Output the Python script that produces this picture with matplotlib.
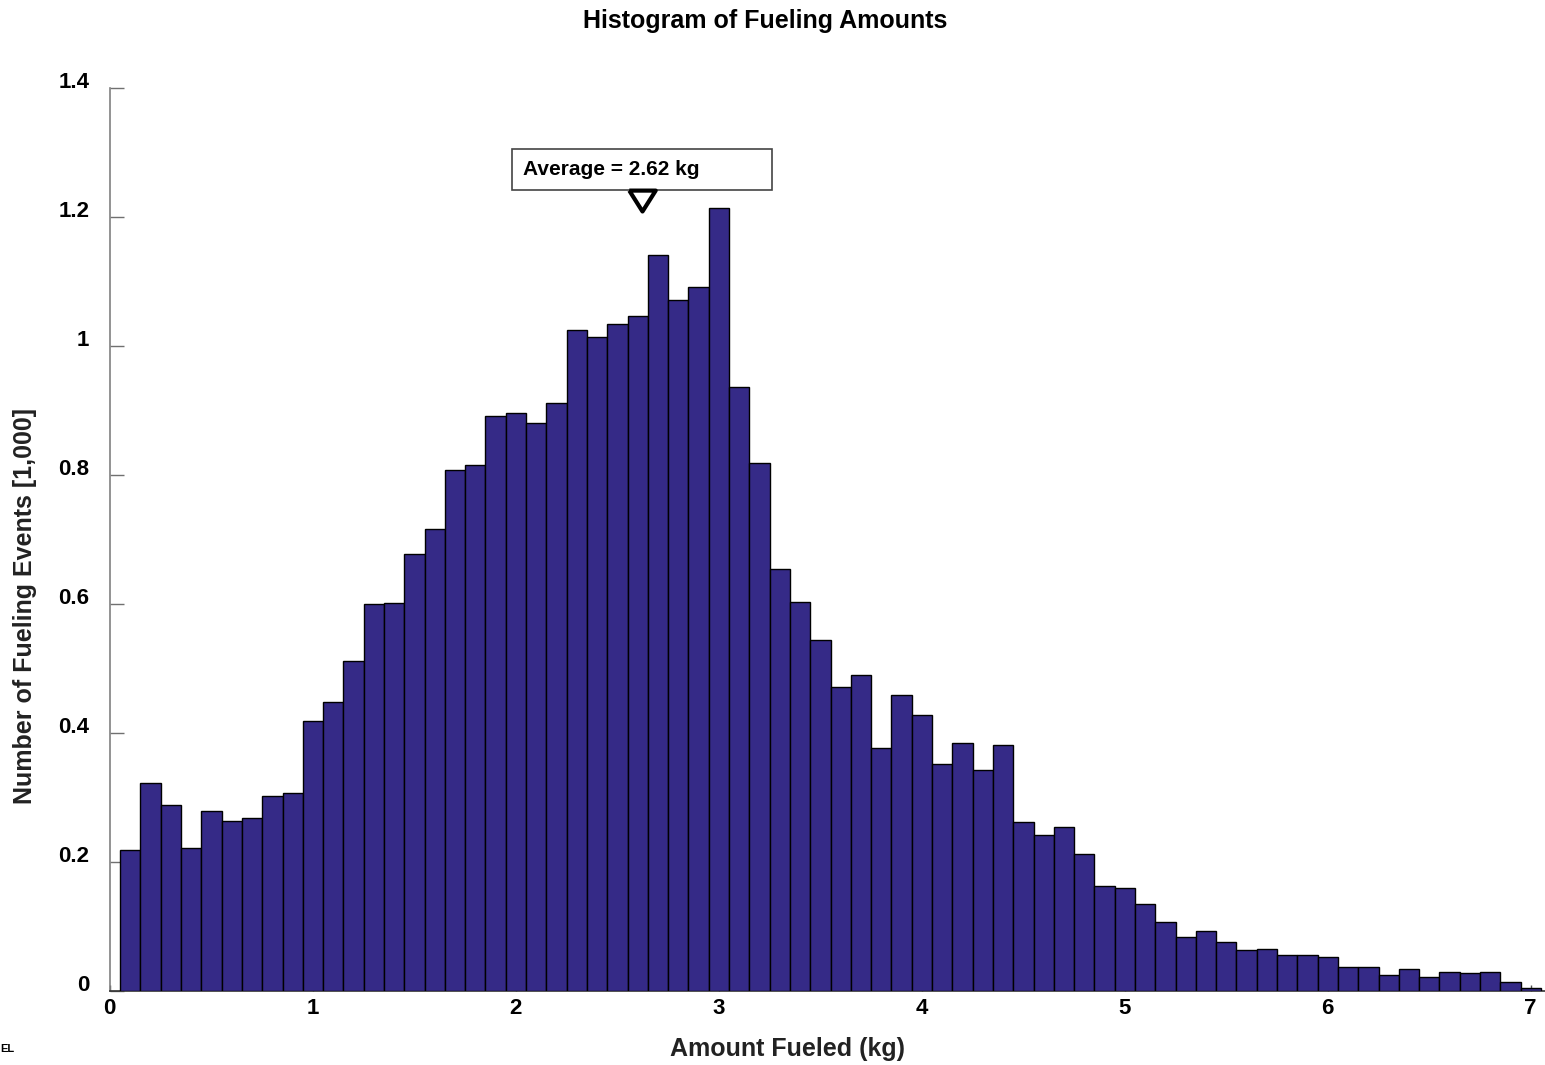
import numpy as np
import matplotlib
matplotlib.use("Agg")
import matplotlib.pyplot as plt
from matplotlib.patches import Rectangle

plt.rcParams['font.family'] = ['Liberation Sans', 'DejaVu Sans']
plt.rcParams['font.weight'] = 'bold'

# Bin centers (kg), bin width 0.1
bin_width = 0.1
bin_centers = np.round(np.arange(1, 71) * 0.1, 2)

# Number of fueling events per bin [1,000]
counts = [
    0.219, 0.322, 0.289, 0.221, 0.279, 0.263, 0.268, 0.302, 0.307, 0.419,
    0.448, 0.511, 0.600, 0.602, 0.678, 0.716, 0.807, 0.815, 0.891, 0.896,
    0.881, 0.912, 1.025, 1.014, 1.034, 1.047, 1.141, 1.072, 1.091, 1.214,
    0.937, 0.819, 0.655, 0.603, 0.544, 0.471, 0.490, 0.376, 0.459, 0.428,
    0.352, 0.385, 0.343, 0.381, 0.262, 0.242, 0.254, 0.212, 0.163, 0.159,
    0.135, 0.107, 0.084, 0.093, 0.076, 0.063, 0.065, 0.056, 0.056, 0.053,
    0.037, 0.037, 0.025, 0.034, 0.022, 0.030, 0.028, 0.029, 0.014, 0.005,
]

x_ticks = [0, 1, 2, 3, 4, 5, 6, 7]
x_tick_labels = ['0', '1', '2', '3', '4', '5', '6', '7']
y_ticks = [0, 0.2, 0.4, 0.6, 0.8, 1.0, 1.2, 1.4]
y_tick_labels = ['0', '0.2', '0.4', '0.6', '0.8', '1', '1.2', '1.4']

average = 2.62
avg_label = 'Average = 2.62 kg'

W, H = 1545, 1065
fig = plt.figure(figsize=(W / 100, H / 100), dpi=100)
ax = fig.add_axes([110 / W, 1 - 991 / H, (1545 - 110) / W, (991 - 88) / H])

ax.bar(bin_centers, counts, width=bin_width, color='#352A87',
       edgecolor='black', linewidth=1.0, zorder=3)

ax.set_xlim(0, 7.07)
ax.set_ylim(0, 1.4)

ax.set_xticks(x_ticks)
ax.set_xticklabels(x_tick_labels)
ax.set_yticks(y_ticks)
ax.set_yticklabels(y_tick_labels)

ax.tick_params(axis='y', direction='in', length=10, width=1, color='#707070',
               labelsize=16, pad=15)
ax.tick_params(axis='x', direction='in', length=4, width=1, color='#505050',
               labelsize=16, pad=5)
for lbl in ax.get_yticklabels():
    lbl.set_verticalalignment('baseline')
    lbl.set_fontweight('bold')
for lbl in ax.get_xticklabels():
    lbl.set_fontweight('bold')
    lbl.set_horizontalalignment('right')
    lbl.set_x(0)
import matplotlib.transforms as mtransforms
offset = mtransforms.ScaledTranslation(6 / 100, 0, fig.dpi_scale_trans)
for lbl in ax.get_xticklabels():
    lbl.set_transform(lbl.get_transform() + offset)

for s in ['top', 'right']:
    ax.spines[s].set_visible(False)
ax.spines['left'].set_color('#808080')
ax.spines['left'].set_linewidth(1.2)
ax.spines['bottom'].set_color('#333333')
ax.spines['bottom'].set_linewidth(1.2)

ax.set_xlabel('Amount Fueled (kg)', fontsize=18, fontweight='bold', color='#222222')
ax.xaxis.set_label_coords((787 - 110) / 1435, (991 - 1049) / 903)
ax.xaxis.label.set_verticalalignment('center')
ax.set_ylabel('Number of Fueling Events [1,000]', fontsize=18, fontweight='bold', color='#222222')
ax.yaxis.set_label_coords((25 - 110) / 1435, (991 - 606) / 903)
ax.yaxis.label.set_verticalalignment('center')

fig.text(765 / W, 1 - 21 / H, 'Histogram of Fueling Amounts', ha='center', va='center',
         fontsize=18, fontweight='bold', color='black')
fig.text(0.0, 1 - 1049 / H, 'EL', ha='left', va='center', fontsize=8, fontweight='bold')

# Annotation box and marker for the average
box = Rectangle((1.980, 1.242), 3.261 - 1.980, 1.305 - 1.242, facecolor='white',
                edgecolor='#444444', linewidth=1.2, zorder=5, clip_on=False)
ax.add_patch(box)
ax.text(2.035, 1.2735, avg_label, ha='left', va='center', fontsize=15,
        fontweight='bold', zorder=6)
ax.plot([average], [1.226], marker=[(-1.2, 0.9), (1.2, 0.9), (0, -1.0), (-1.2, 0.9)],
        markersize=19, markerfacecolor='white', markeredgecolor='black',
        markeredgewidth=3, linestyle='none', zorder=6, clip_on=False)

fig.savefig('out.png', dpi=100, facecolor='white')
